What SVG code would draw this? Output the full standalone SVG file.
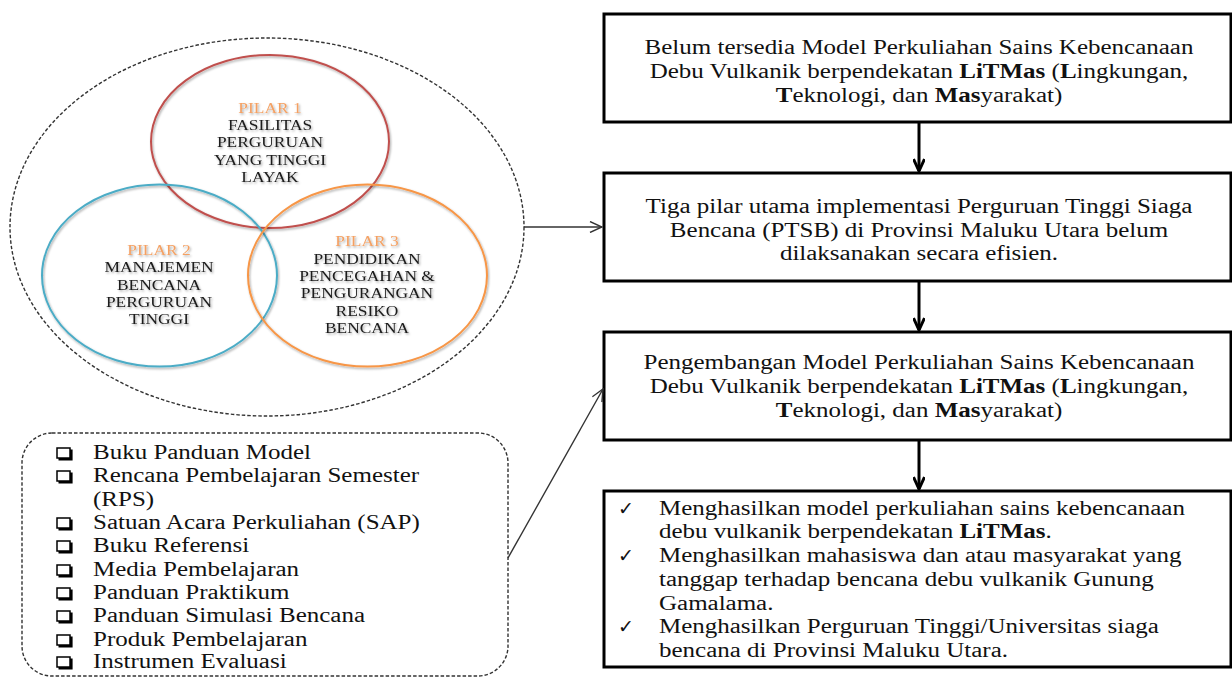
<svg xmlns="http://www.w3.org/2000/svg" width="1232" height="679" viewBox="0 0 1232 679">
<style>
.box{fill:#fff;stroke:#000;stroke-width:3}
.t{font-family:"Liberation Serif","Times New Roman",serif;font-size:20px;fill:#111}
.tc{text-anchor:middle}
.p{font-family:"Liberation Serif","Times New Roman",serif;font-size:14.5px;fill:#1a1a1a;text-anchor:middle;filter:url(#sh)}
.pl{fill:#f4a062}
.b{font-weight:bold}
.dash{fill:none;stroke:#333;stroke-width:1.4;stroke-dasharray:3.5 2}
.thick{stroke:#000;stroke-width:3;fill:none}
.thin{stroke:#333;stroke-width:1.4;fill:none}
.chk{font-family:"DejaVu Sans",sans-serif;font-size:19px;fill:#111}
</style>
<defs>
<filter id="sh" x="-10%" y="-30%" width="130%" height="170%">
<feDropShadow dx="1" dy="1.5" stdDeviation="1" flood-color="#000" flood-opacity="0.35"/>
</filter>
<marker id="ah" viewBox="0 0 16 12" markerWidth="16" markerHeight="12" refX="14" refY="6" orient="auto" markerUnits="userSpaceOnUse">
<path d="M2,0.5 L14,6 L2,11.5" fill="none" stroke="#000" stroke-width="3"/>
</marker>
<marker id="ah2" viewBox="0 0 14 12" markerWidth="14" markerHeight="12" refX="13" refY="6" orient="auto" markerUnits="userSpaceOnUse">
<path d="M1,0.5 L13,6 L1,11.5" fill="none" stroke="#333" stroke-width="1.4"/>
</marker>
<g id="cb">
<rect x="1" y="1" width="13" height="10" fill="#fff" stroke="#000" stroke-width="1.5"/>
<path d="M2.5,12.3 L15.3,12.3 L15.3,2.5" fill="none" stroke="#000" stroke-width="2.6"/>
</g>
</defs>

<g id="pillars">
<ellipse class="dash" cx="267" cy="227" rx="257" ry="189"/>
<ellipse cx="270" cy="141.5" rx="119" ry="86.5" fill="none" stroke="#c0504d" stroke-width="2" filter="url(#sh)"/>
<ellipse cx="159.5" cy="275.6" rx="117.5" ry="91" fill="none" stroke="#4bacc6" stroke-width="2" filter="url(#sh)"/>
<ellipse cx="367.5" cy="275.6" rx="119.5" ry="91" fill="none" stroke="#f79646" stroke-width="2" filter="url(#sh)"/>
<g transform="translate(270 0) scale(1.2 1)">
<text class="p pl" x="0" y="113">PILAR 1</text>
<text class="p" x="0" y="130">FASILITAS</text>
<text class="p" x="0" y="147.5">PERGURUAN</text>
<text class="p" x="0" y="165">YANG TINGGI</text>
<text class="p" x="0" y="182">LAYAK</text>
</g>
<g transform="translate(159 0) scale(1.2 1)">
<text class="p pl" x="0" y="255">PILAR 2</text>
<text class="p" x="0" y="272">MANAJEMEN</text>
<text class="p" x="0" y="290">BENCANA</text>
<text class="p" x="0" y="307">PERGURUAN</text>
<text class="p" x="0" y="324">TINGGI</text>
</g>
<g transform="translate(367 0) scale(1.2 1)">
<text class="p pl" x="0" y="246.5">PILAR 3</text>
<text class="p" x="0" y="264">PENDIDIKAN</text>
<text class="p" x="0" y="281">PENCEGAHAN &amp;</text>
<text class="p" x="0" y="298">PENGURANGAN</text>
<text class="p" x="0" y="316">RESIKO</text>
<text class="p" x="0" y="333">BENCANA</text>
</g>
</g>

<g id="outputs">
<rect class="dash" x="22" y="433" width="486" height="243" rx="30" ry="30"/>
<use href="#cb" x="56" y="447"/>
<use href="#cb" x="56" y="470"/>
<use href="#cb" x="56" y="517"/>
<use href="#cb" x="56" y="540"/>
<use href="#cb" x="56" y="564"/>
<use href="#cb" x="56" y="587"/>
<use href="#cb" x="56" y="610"/>
<use href="#cb" x="56" y="634"/>
<use href="#cb" x="56" y="656"/>
<g transform="translate(93 0) scale(1.25 1)">
<text class="t" x="0" y="459">Buku Panduan Model</text>
<text class="t" x="0" y="482">Rencana Pembelajaran Semester</text>
<text class="t" x="0" y="506">(RPS)</text>
<text class="t" x="0" y="529">Satuan Acara Perkuliahan (SAP)</text>
<text class="t" x="0" y="552">Buku Referensi</text>
<text class="t" x="0" y="576">Media Pembelajaran</text>
<text class="t" x="0" y="599">Panduan Praktikum</text>
<text class="t" x="0" y="622">Panduan Simulasi Bencana</text>
<text class="t" x="0" y="646">Produk Pembelajaran</text>
<text class="t" x="0" y="668">Instrumen Evaluasi</text>
</g>
</g>

<g id="box1">
<rect class="box" x="604" y="14" width="627" height="108"/>
<g transform="translate(919 0) scale(1.25 1)">
<text class="t tc" x="0" y="54">Belum tersedia Model Perkuliahan Sains Kebencanaan</text>
<text class="t tc" x="0" y="78">Debu Vulkanik berpendekatan <tspan class="b">LiTMas</tspan> (<tspan class="b">L</tspan>ingkungan,</text>
<text class="t tc" x="0" y="102"><tspan class="b">T</tspan>eknologi, dan <tspan class="b">Mas</tspan>yarakat)</text>
</g>
</g>

<g id="box2">
<rect class="box" x="604" y="173" width="627" height="108"/>
<g transform="translate(919 0) scale(1.25 1)">
<text class="t tc" x="0" y="213">Tiga pilar utama implementasi Perguruan Tinggi Siaga</text>
<text class="t tc" x="0" y="237">Bencana (PTSB) di Provinsi Maluku Utara belum</text>
<text class="t tc" x="0" y="260">dilaksanakan secara efisien.</text>
</g>
</g>

<g id="box3">
<rect class="box" x="604" y="332" width="627" height="108"/>
<g transform="translate(919 0) scale(1.25 1)">
<text class="t tc" x="0" y="369">Pengembangan Model Perkuliahan Sains Kebencanaan</text>
<text class="t tc" x="0" y="393">Debu Vulkanik berpendekatan <tspan class="b">LiTMas</tspan> (<tspan class="b">L</tspan>ingkungan,</text>
<text class="t tc" x="0" y="417"><tspan class="b">T</tspan>eknologi, dan <tspan class="b">Mas</tspan>yarakat)</text>
</g>
</g>

<g id="box4">
<rect class="box" x="604" y="491" width="627" height="176"/>
<text class="chk" x="618" y="515">✓</text>
<text class="chk" x="618" y="562">✓</text>
<text class="chk" x="618" y="633">✓</text>
<g transform="translate(659 0) scale(1.25 1)">
<text class="t" x="0" y="515">Menghasilkan model perkuliahan sains kebencanaan</text>
<text class="t" x="0" y="538">debu vulkanik berpendekatan <tspan class="b">LiTMas</tspan>.</text>
<text class="t" x="0" y="562">Menghasilkan mahasiswa dan atau masyarakat yang</text>
<text class="t" x="0" y="586">tanggap terhadap bencana debu vulkanik Gunung</text>
<text class="t" x="0" y="610">Gamalama.</text>
<text class="t" x="0" y="633">Menghasilkan Perguruan Tinggi/Universitas siaga</text>
<text class="t" x="0" y="657">bencana di Provinsi Maluku Utara.</text>
</g>
</g>

<g id="connectors">
<line class="thick" x1="919" y1="122" x2="919" y2="171" marker-end="url(#ah)"/>
<line class="thick" x1="919" y1="281" x2="919" y2="330" marker-end="url(#ah)"/>
<line class="thick" x1="919" y1="440" x2="919" y2="489" marker-end="url(#ah)"/>
<line class="thin" x1="524" y1="227" x2="602" y2="227" marker-end="url(#ah2)"/>
<line class="thin" x1="508" y1="558" x2="603" y2="389" marker-end="url(#ah2)"/>
</g>
</svg>
